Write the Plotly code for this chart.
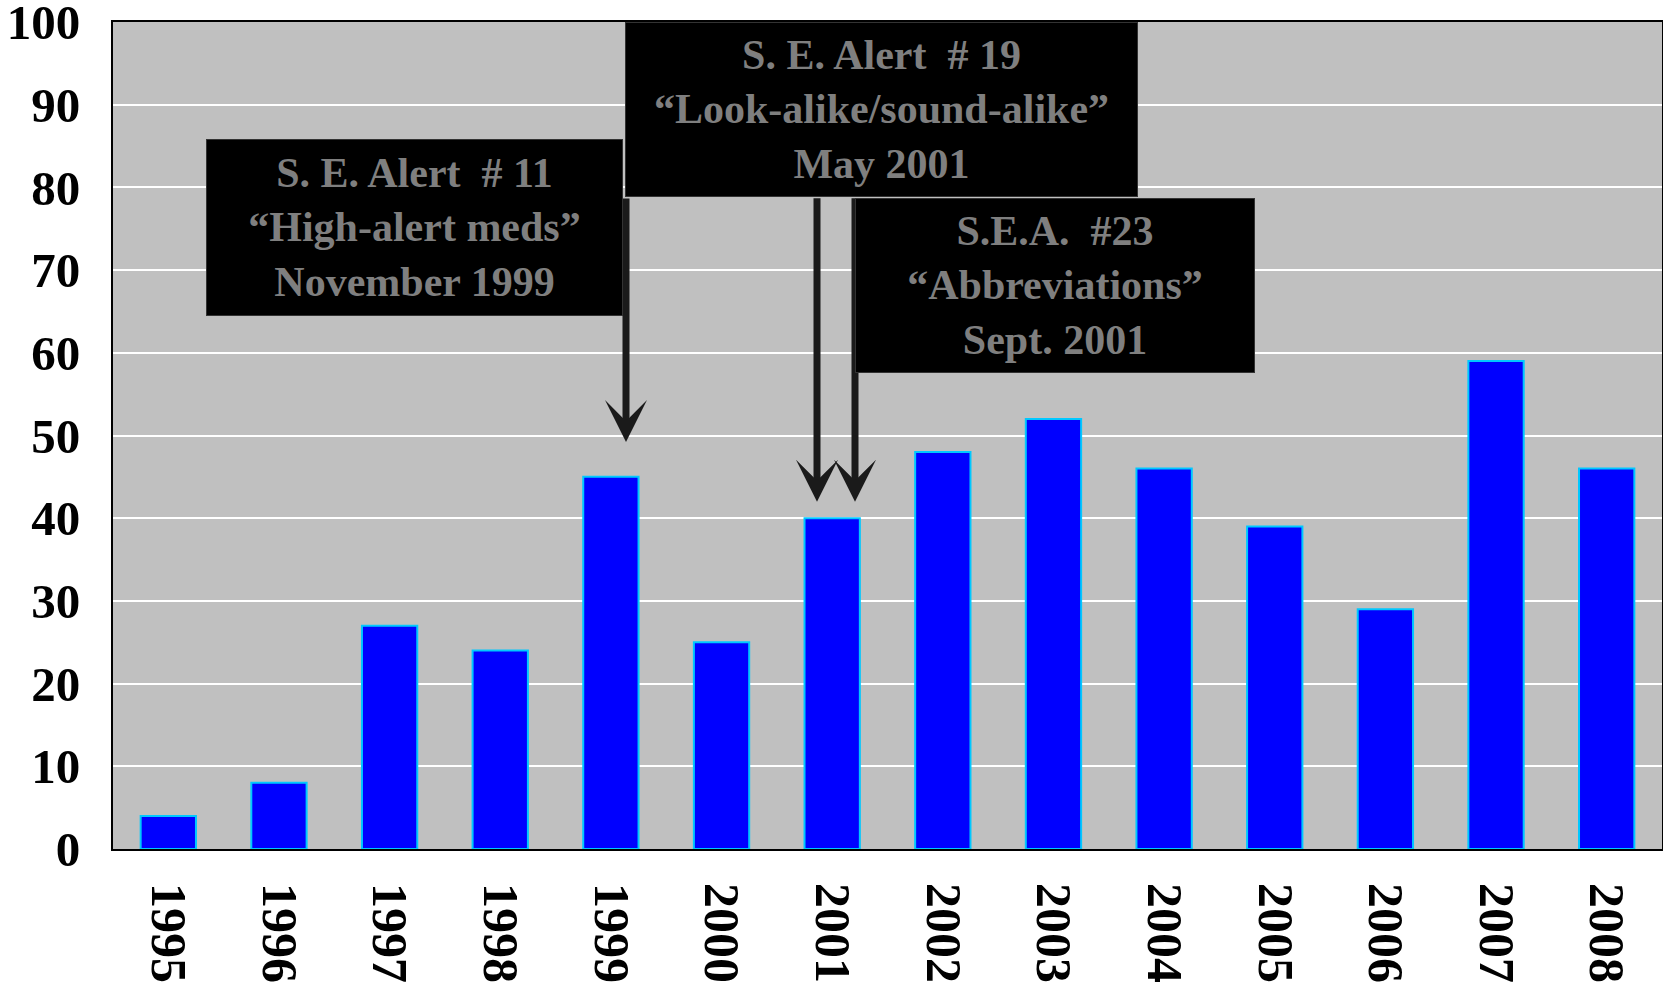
import plotly.graph_objects as go

years = ["1995", "1996", "1997", "1998", "1999", "2000", "2001",
         "2002", "2003", "2004", "2005", "2006", "2007", "2008"]
counts = [4, 8, 27, 24, 45, 25, 40, 48, 52, 46, 39, 29, 59, 46]
y_ticks = [0, 10, 20, 30, 40, 50, 60, 70, 80, 90, 100]

box_texts = [
    "S. E. Alert  # 11<br>“High-alert meds”<br>November 1999",
    "S. E. Alert  # 19<br>“Look-alike/sound-alike”<br>May 2001",
    "S.E.A.  #23<br>“Abbreviations”<br>Sept. 2001",
]

W, H = 1663, 995
L, R, T, B = 113, 1, 22, 146
PW = W - L - R
PH = H - T - B


def px(xp):
    return (xp - L) / PW


def py(yp):
    return (H - B - yp) / PH


fig = go.Figure()
fig.add_trace(go.Bar(
    x=years, y=counts, width=0.5,
    marker=dict(color="#0000FF", line=dict(color="#00C8FF", width=2)),
))

font_tick = dict(family="Liberation Serif", size=49, color="black", weight="bold")

annotations = []
# arrows (tip at data y, tail near the box bottoms)
arrow_specs = [(626, 49.2, -245), (817, 42.0, -305), (855, 42.0, -305)]
for xpix, ytip, ay in arrow_specs:
    annotations.append(dict(
        xref="paper", yref="y", x=px(xpix), y=ytip, ax=0, ay=ay,
        text="", showarrow=True, arrowhead=3, arrowwidth=7, arrowsize=1.0,
        arrowcolor="#1a1a1a", standoff=0,
    ))

# boxes: (left, top, right, bottom) in pixels
boxes = [(206, 139, 623, 316), (625, 22, 1138, 197), (855, 198, 1255, 373)]
for (x0, y0, x1, y1), txt in zip(boxes, box_texts):
    annotations.append(dict(
        xref="paper", yref="paper", x=px(x0), y=py(y0),
        xanchor="left", yanchor="top", showarrow=False,
        text=txt, align="center", valign="middle",
        width=x1 - x0 - 2, height=y1 - y0 - 2,
        bgcolor="black", bordercolor="#333333", borderwidth=1, borderpad=0,
        font=dict(family="Liberation Serif", size=42, color="#7F7F7F", weight="bold"),
    ))

fig.update_layout(
    width=W, height=H,
    margin=dict(l=L, r=R, t=T, b=B, autoexpand=False),
    paper_bgcolor="white",
    plot_bgcolor="#C0C0C0",
    showlegend=False,
    bargap=0.5,
    annotations=annotations,
    xaxis=dict(
        type="category", tickangle=90, tickfont=dict(font_tick, size=50),
        showgrid=False, showline=True, linecolor="black", linewidth=2, mirror=True,
        ticks="", ticklabelstandoff=22, ticklabeloverflow="allow", automargin=False,
    ),
    yaxis=dict(
        range=[0, 100], tickvals=y_ticks, tickfont=font_tick,
        showgrid=True, gridcolor="white", gridwidth=2,
        showline=True, linecolor="black", linewidth=2, mirror=True,
        ticks="", ticklabelstandoff=21, zeroline=False,
        ticklabeloverflow="allow", automargin=False,
    ),
)

fig.write_html("out.html", config={"displayModeBar": False},
               post_script="document.body.style.margin='0';")
